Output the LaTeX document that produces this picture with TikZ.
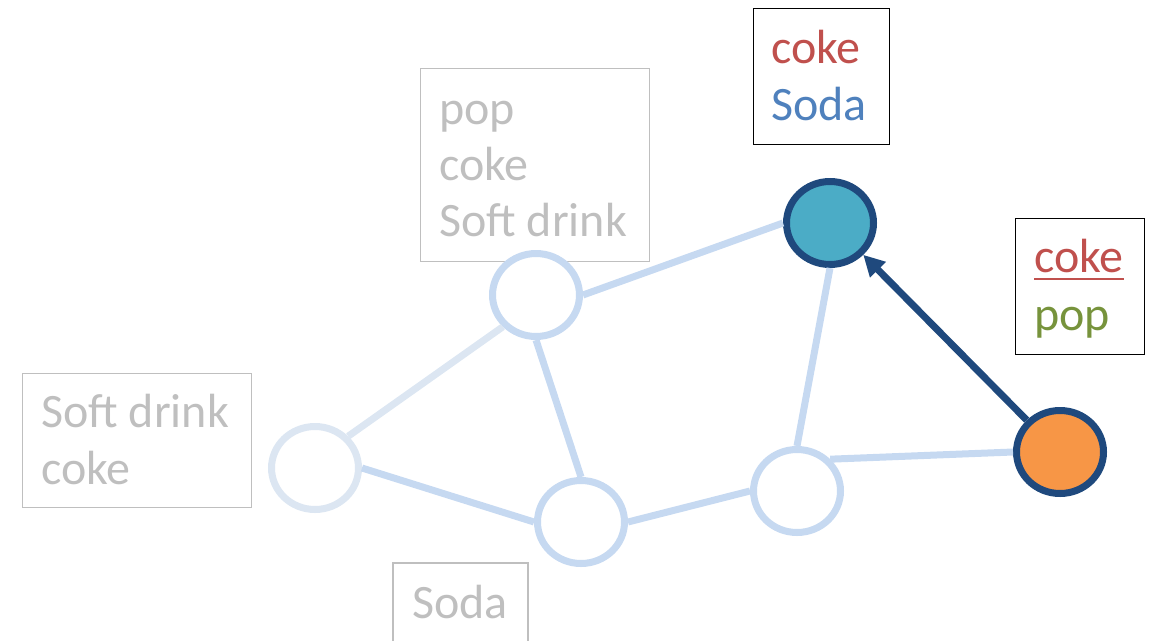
\documentclass[tikz,border=0pt]{standalone}
\usepackage{fontspec}
\setmainfont{Carlito}
\usetikzlibrary{shapes.geometric,arrows.meta}
\definecolor{edgeblue}{HTML}{C6D9F1}
\definecolor{paleblue}{HTML}{DCE6F2}
\definecolor{navy}{HTML}{1F497D}
\definecolor{tealfill}{HTML}{4BACC6}
\definecolor{orangefill}{HTML}{F79646}
\definecolor{cokered}{HTML}{C0504D}
\definecolor{sodablue}{HTML}{4F81BD}
\definecolor{popgreen}{HTML}{77933C}
\definecolor{fadegray}{HTML}{BFBFBF}
\tikzset{
  vertex/.style={ellipse, draw=edgeblue, line width=7pt, fill=white,
    minimum width=87pt, minimum height=83pt, inner sep=0pt},
  hot/.style={vertex, draw=navy},
  link/.style={draw=edgeblue, line width=7pt},
  word/.style={anchor=base west, inner sep=0pt, font=\fontsize{48}{56}\selectfont},
  tagbox/.style={draw=black, line width=1.2pt, anchor=north west, inner sep=0pt},
  fadebox/.style={draw=fadegray, line width=1.2pt, anchor=north west, inner sep=0pt},
}
\begin{document}
\begin{tikzpicture}[x=1pt, y=-1pt]
\useasboundingbox (0,0) rectangle (1153,640);

% label boxes
\node[tagbox, minimum width=136pt, minimum height=136pt] (box1) at (753,8) {};
\node[tagbox, minimum width=129pt, minimum height=136pt] (box2) at (1015,218) {};
\node[fadebox, minimum width=229pt, minimum height=193pt] (box3) at (420,68) {};
\node[fadebox, minimum width=229pt, minimum height=134pt] (box4) at (22,373) {};
\draw[draw=fadegray, line width=1.2pt] (393,645) -- (393,563) -- (528,563) -- (528,645);

% label words
\node[word, text=cokered] (w1a) at (771,63) {coke};
\node[word, text=sodablue] (w1b) at (771,120) {Soda};
\node[word, text=cokered] (w2a) at (1034,272) {coke};
\draw[cokered, line width=2pt] ([yshift=-7pt]w2a.base west) -- ([yshift=-7pt]w2a.base east);
\node[word, text=popgreen] (w2b) at (1034,330) {pop};
\node[word, text=fadegray] (w3a) at (439,124) {pop};
\node[word, text=fadegray] (w3b) at (439,180) {coke};
\node[word, text=fadegray] (w3c) at (439,236) {Soft drink};
\node[word, text=fadegray] (w4a) at (41,427) {Soft drink};
\node[word, text=fadegray] (w4b) at (41,484) {coke};
\node[word, text=fadegray] (w5a) at (412,618) {Soda};

% graph vertices
\node[vertex] (a) at (536,295) {};
\node[vertex, draw=paleblue] (b) at (315,468) {};
\node[vertex] (c) at (581,522) {};
\node[vertex] (d) at (797,491) {};
\node[hot, fill=tealfill] (e) at (830,223) {};
\node[hot, fill=orangefill] (f) at (1060,452) {};

% graph edges
\draw[link] (a.east) -- (e.west);
\draw[link, draw=paleblue] (a.south west) -- (b.north east);
\draw[link] (a.south) -- (c.north);
\draw[link] (b.east) -- (c.west);
\draw[link] (c.east) -- (d.west);
\draw[link] (d.north) -- (e.south);
\draw[link] (d.north east) -- (f.west);
\draw[navy, line width=7pt, -{Triangle[length=21pt, width=21pt]}] (f.north west) -- (e.south east);
\end{tikzpicture}
\end{document}
